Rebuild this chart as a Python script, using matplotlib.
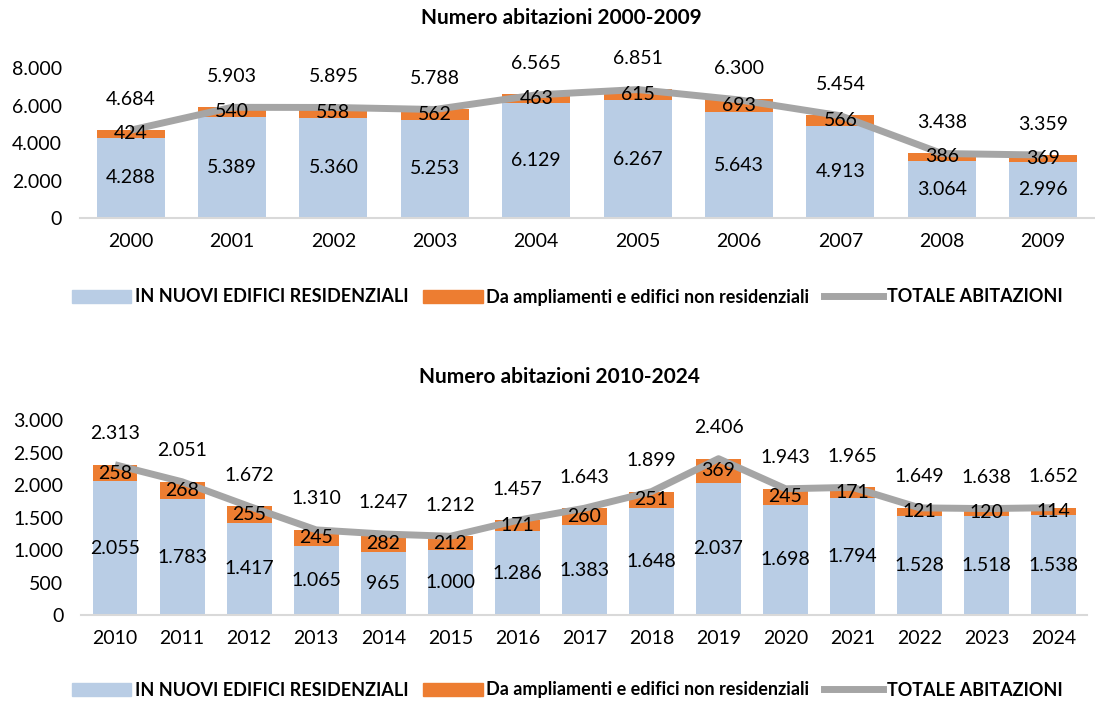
import numpy as np
import matplotlib.pyplot as plt
from matplotlib.patches import Patch
from matplotlib.lines import Line2D

plt.rcParams['font.family'] = ['Lato', 'DejaVu Sans']

years_a = [str(y) for y in range(2000, 2010)]
new_a = [4288, 5389, 5360, 5253, 6129, 6267, 5643, 4913, 3064, 2996]
ext_a = [424, 540, 558, 562, 463, 615, 693, 566, 386, 369]
tot_a = [4684, 5903, 5895, 5788, 6565, 6851, 6300, 5454, 3438, 3359]

years_b = [str(y) for y in range(2010, 2025)]
new_b = [2055, 1783, 1417, 1065, 965, 1000, 1286, 1383, 1648, 2037, 1698, 1794, 1528, 1518, 1538]
ext_b = [258, 268, 255, 245, 282, 212, 171, 260, 251, 369, 245, 171, 121, 120, 114]
tot_b = [2313, 2051, 1672, 1310, 1247, 1212, 1457, 1643, 1899, 2406, 1943, 1965, 1649, 1638, 1652]

BLUE = '#B9CDE5'
ORANGE = '#ED7D31'
GREY = '#A5A5A5'


def fmt(v):
    return f"{v:,}".replace(",", ".")


def draw(ax, years, new, ext, tot, ymax, step, title, tpad):
    x = np.arange(len(years))
    ax.bar(x, new, width=0.67, color=BLUE, zorder=2)
    ax.bar(x, ext, bottom=new, width=0.67, color=ORANGE, zorder=2)
    ax.plot(x, tot, color=GREY, lw=5, zorder=3, solid_capstyle='butt')
    for i in range(len(x)):
        ax.text(x[i], new[i] / 2, fmt(new[i]), ha='center', va='center', fontsize=14, zorder=4)
        ax.text(x[i], new[i] + ext[i] / 2, fmt(ext[i]), ha='center', va='center', fontsize=14, zorder=4)
        ax.annotate(fmt(tot[i]), (x[i], tot[i]), xytext=(0, 31), textcoords='offset pixels',
                    ha='center', va='center', fontsize=14, zorder=4)
    ax.set_xlim(-0.5, len(x) - 0.5)
    ax.set_ylim(0, ymax)
    ticks = np.arange(0, ymax + 1, step)
    ax.set_yticks(ticks)
    ax.set_yticklabels([fmt(int(v)) for v in ticks])
    ax.set_xticks(x)
    ax.set_xticklabels(years)
    ax.tick_params(length=0, labelsize=14)
    ax.tick_params(axis='x', pad=11)
    ax.tick_params(axis='y', pad=13)
    for s in ['top', 'right', 'left']:
        ax.spines[s].set_visible(False)
    ax.spines['bottom'].set_color('#D9D9D9')
    ax.spines['bottom'].set_linewidth(1.5)
    ax.set_title(title, fontsize=15, fontweight='bold', pad=tpad, x=0.475)


fig = plt.figure(figsize=(10.95, 7.01), dpi=100)
ax1 = fig.add_axes([0.073, 0.689, 0.926, 0.214])
ax2 = fig.add_axes([0.0744, 0.1227, 0.9186, 0.278])

draw(ax1, years_a, new_a, ext_a, tot_a, 8000, 2000, 'Numero abitazioni 2000-2009', 32)
draw(ax2, years_b, new_b, ext_b, tot_b, 3000, 500, 'Numero abitazioni 2010-2024', 27)

handles = [Patch(color=BLUE), Patch(color=ORANGE), Line2D([], [], color=GREY, lw=5)]
labels = ['IN NUOVI EDIFICI RESIDENZIALI', 'Da ampliamenti e edifici non residenziali', 'TOTALE ABITAZIONI']
for yy in [1 - 297 / 701, 1 - 690 / 701]:
    fig.legend(handles, labels, loc='center', bbox_to_anchor=(0.518, yy), ncol=3, frameon=False,
               prop={'weight': 'bold', 'size': 13}, handlelength=3.3, handletextpad=0.2,
               columnspacing=0.8)

fig.savefig('out.png', dpi=100)
